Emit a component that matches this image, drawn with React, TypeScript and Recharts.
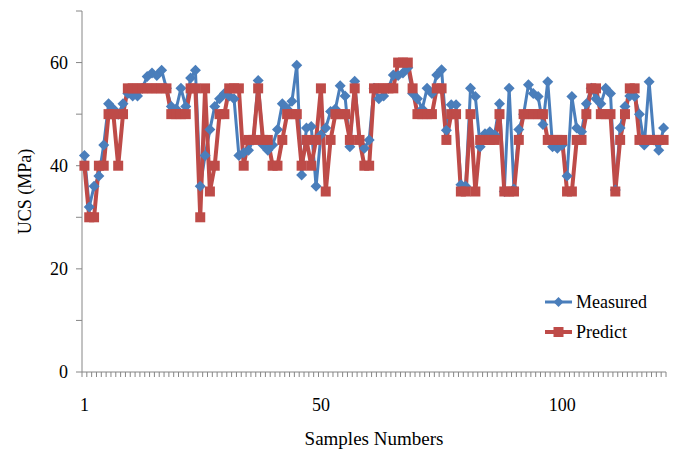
import { LineChart, Line, XAxis, YAxis } from 'recharts';

const samples = Array.from({ length: 121 }, (_, i) => i + 1);

const measured = [
  42, 32, 36, 38, 44, 52, 51, 50, 52, 54,
  53.5, 53.5, 55, 57.3, 58, 57.5, 58.5, 55, 51.5, 51,
  55, 51.5, 57, 58.5, 36, 42, 47, 51.5, 53, 54,
  53.5, 53, 42, 42.5, 43, 45, 56.5, 44, 43, 44,
  47, 52, 51, 52.5, 59.5, 38.2, 47.3, 47.6, 36, 46,
  47.3, 50.5, 51, 55.5, 53.5, 43.7, 56.4, 45, 43.4, 45,
  55, 53, 53.5, 55, 57.6, 57.5, 58, 59, 54, 53,
  51, 55, 54, 57.6, 58.6, 46.9, 51.8, 51.8, 36.3, 36,
  55, 53.4, 43.7, 46.2, 46.6, 46, 52, 35, 55, 35.5,
  47, 50, 55.7, 54, 53.4, 48, 56.3, 43.7, 43.4, 44,
  38, 53.4, 47.3, 46.6, 52, 55, 53, 52, 55, 54,
  35.3, 47.3, 51.5, 53.5, 53.4, 50, 44, 56.3, 45, 43, 47.3,
];

const predict = [
  40, 30, 30, 40, 40, 50, 50, 40, 50, 55,
  55, 55, 55, 55, 55, 55, 55, 55, 50, 50,
  50, 50, 55, 55, 30, 55, 35, 40, 50, 50,
  55, 55, 55, 40, 45, 45, 55, 45, 45, 40,
  40, 45, 50, 50, 50, 40, 45, 40, 45, 55,
  35, 45, 50, 50, 50, 45, 55, 45, 40, 40,
  55, 55, 55, 55, 55, 60, 60, 60, 55, 50,
  50, 50, 50, 55, 55, 45, 50, 50, 35, 35,
  50, 35, 45, 45, 45, 45, 50, 35, 35, 35,
  45, 50, 50, 50, 50, 50, 45, 45, 45, 45,
  35, 35, 45, 45, 50, 55, 55, 50, 50, 50,
  35, 45, 50, 55, 55, 45, 45, 45, 45, 45, 45,
];

const xLabels = [1, 50, 100];
const yTicks = [0, 10, 20, 30, 40, 50, 60, 70];

const data = samples.map((s, i) => ({ sample: s, measured: measured[i], predict: predict[i] }));

// tick marks sit on category boundaries, labels on category centres
const xTicks = [...samples.map((s) => s - 0.5), samples.length + 0.5, ...xLabels].sort((a, b) => a - b);

const BLUE = '#4A7EBB';
const RED = '#BE4B48';
const AXIS = '#868686';
const FONT = 'Liberation Serif, Times New Roman, serif';

const XTick = ({ x, y, payload }) => {
  const v = payload.value;
  if (Number.isInteger(v)) {
    return (
      <text x={x} y={y + 39} textAnchor="middle" fontFamily={FONT} fontSize={18} fill="#000">
        {v}
      </text>
    );
  }
  return <line x1={x} x2={x} y1={y} y2={y + 5} stroke={AXIS} strokeWidth={1} />;
};

const Diamond = ({ cx, cy, index }) => (
  <polygon
    key={'m' + index}
    points={`${cx},${cy - 5.5} ${cx + 5.5},${cy} ${cx},${cy + 5.5} ${cx - 5.5},${cy}`}
    fill={BLUE}
  />
);

const Square = ({ cx, cy, index }) => (
  <rect key={'p' + index} x={cx - 5} y={cy - 5} width={10} height={10} fill={RED} />
);

const LegendBox = () => (
  <svg width={120} height={60} style={{ position: 'absolute', left: 540, top: 287 }}>
    <line x1={5} x2={32} y1={15} y2={15} stroke={BLUE} strokeWidth={3} />
    <polygon points="18.5,10 23.5,15 18.5,20 13.5,15" fill={BLUE} />
    <text x={36} y={21} fontFamily={FONT} fontSize={18} fill="#000">Measured</text>
    <line x1={5} x2={32} y1={45} y2={45} stroke={RED} strokeWidth={4} />
    <rect x={13.5} y={40} width={10} height={10} fill={RED} />
    <text x={36} y={51} fontFamily={FONT} fontSize={18} fill="#000">Predict</text>
  </svg>
);

const App = () => {
  return (
    <div style={{ position: 'absolute', left: 0, top: 0, width: 675, height: 451, background: '#fff', fontFamily: FONT }}>
      <LineChart width={675} height={451} data={data} margin={{ top: 11, right: 9, bottom: 0, left: 0 }}>
        <XAxis
          dataKey="sample"
          type="number"
          domain={[0.5, samples.length + 0.5]}
          ticks={xTicks}
          interval={0}
          tick={<XTick />}
          tickLine={false}
          tickSize={0}
          tickMargin={0}
          height={79}
          stroke={AXIS}
          label={{ value: 'Samples Numbers', position: 'insideBottom', offset: 6, fill: '#000', fontFamily: FONT, fontSize: 19 }}
        />
        <YAxis
          domain={[0, 70]}
          ticks={yTicks}
          interval={0}
          width={82}
          tickSize={6}
          tickMargin={8}
          stroke={AXIS}
          tick={{ fill: '#000', fontFamily: FONT, fontSize: 18 }}
          tickFormatter={(v) => (v % 20 === 0 ? String(v) : '')}
          label={{ value: 'UCS (MPa)', angle: -90, position: 'insideLeft', offset: 25, fill: '#000', fontFamily: FONT, fontSize: 18, style: { textAnchor: 'middle' } }}
        />
        <Line dataKey="measured" stroke={BLUE} strokeWidth={3} dot={Diamond} isAnimationActive={false} />
        <Line dataKey="predict" stroke={RED} strokeWidth={4} dot={Square} isAnimationActive={false} />
      </LineChart>
      <LegendBox />
    </div>
  );
};

export default App;
